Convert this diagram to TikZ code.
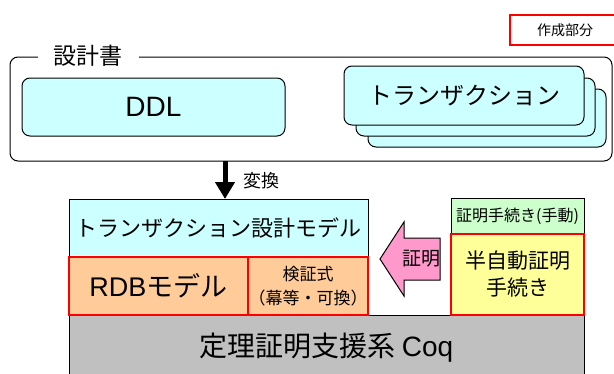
\documentclass[tikz,border=0pt]{standalone}
\usepackage{fontspec}
\setmainfont{Noto Sans CJK JP}
\newfontfamily\latf{Liberation Sans}
\usetikzlibrary{arrows.meta}
\definecolor{cyanfill}{HTML}{CCFFFF}
\definecolor{orangefill}{HTML}{FFCC99}
\definecolor{greenfill}{HTML}{CCFFCC}
\definecolor{yellowfill}{HTML}{FFFF99}
\definecolor{pinkfill}{HTML}{FF99CC}
\definecolor{grayfill}{HTML}{C0C0C0}
\newcommand\fsz[2]{\fontsize{#1}{#2}\selectfont}
\begin{document}
\begin{tikzpicture}[x=1pt,y=-1pt,
  box/.style={draw=black, line width=1pt, inner sep=0pt, outer sep=0pt},
  rbox/.style={box, rounded corners=8pt},
  redbox/.style={draw=red, line width=2.2pt, inner sep=0pt, outer sep=0pt},
]
\useasboundingbox (0,0) rectangle (614,373);
% legend
\node[redbox, fill=white, minimum width=110pt, minimum height=30pt, font=\fsz{14}{16}] (sakusei) at (565,30) {作成部分};
% design document
\node[rbox, minimum width=602pt, minimum height=104pt] (design) at (311,109) {};
\node[fill=white, inner xsep=16pt, inner ysep=2pt, font=\fsz{23}{26}] (designtitle) at (88,56) {設計書};
\node[rbox, fill=cyanfill, minimum width=263pt, minimum height=58pt, font=\latf\fsz{28}{30}] (ddl) at (153.5,107) {DDL};
\node[rbox, fill=cyanfill, minimum width=238pt, minimum height=58pt] (tr3) at (487,118) {};
\node[rbox, fill=cyanfill, minimum width=239pt, minimum height=58pt] (tr2) at (475.5,107) {};
\node[rbox, fill=cyanfill, minimum width=240pt, minimum height=59pt, font=\fsz{24}{26}] (tr1) at (464,95.5) {トランザクション};
% lower part
\node[box, fill=grayfill, minimum width=515pt, minimum height=66pt, font=\fsz{28}{30}] (coq) at (326.5,348) {定理証明支援系 {\latf Coq}};
\node[box, fill=cyanfill, minimum width=299pt, minimum height=58pt, font=\fsz{22}{24}] (model) at (218.5,228) {トランザクション設計モデル};
\node[redbox, fill=orangefill, minimum width=179pt, minimum height=58pt, font=\fsz{27}{30}] (rdb) at (158.5,286) {{\latf RDB}モデル};
\node[redbox, fill=orangefill, minimum width=120pt, minimum height=58pt, align=center, font=\fsz{17}{24}] (kensho) at (308,286) {検証式\\（幕等・可換）};
\node[box, fill=greenfill, minimum width=133pt, minimum height=36pt, font=\fsz{16}{18}] (manual) at (517.5,216) {証明手続き(手動)};
\node[redbox, fill=yellowfill, minimum width=133pt, minimum height=81pt, align=center, font=\fsz{21}{27}] (semi) at (517.5,274.5) {半自動証明\\手続き};
% proof arrow
\draw[line width=1pt, fill=pinkfill] (440,238) -- (404,238) -- (404,222) -- (380,259) -- (404,296) -- (404,280) -- (440,280) -- cycle;
\node[font=\fsz{19}{21}] (proof) at (421,259) {証明};
% conversion arrow
\coordinate (ax) at (225,0);
\draw[line width=5pt, -{Triangle[width=19pt,length=17pt]}] (design.south -| ax) -- (model.north -| ax);
\node[font=\fsz{18}{20}, anchor=west] (conv) at (240,181) {変換};
\end{tikzpicture}
\end{document}
